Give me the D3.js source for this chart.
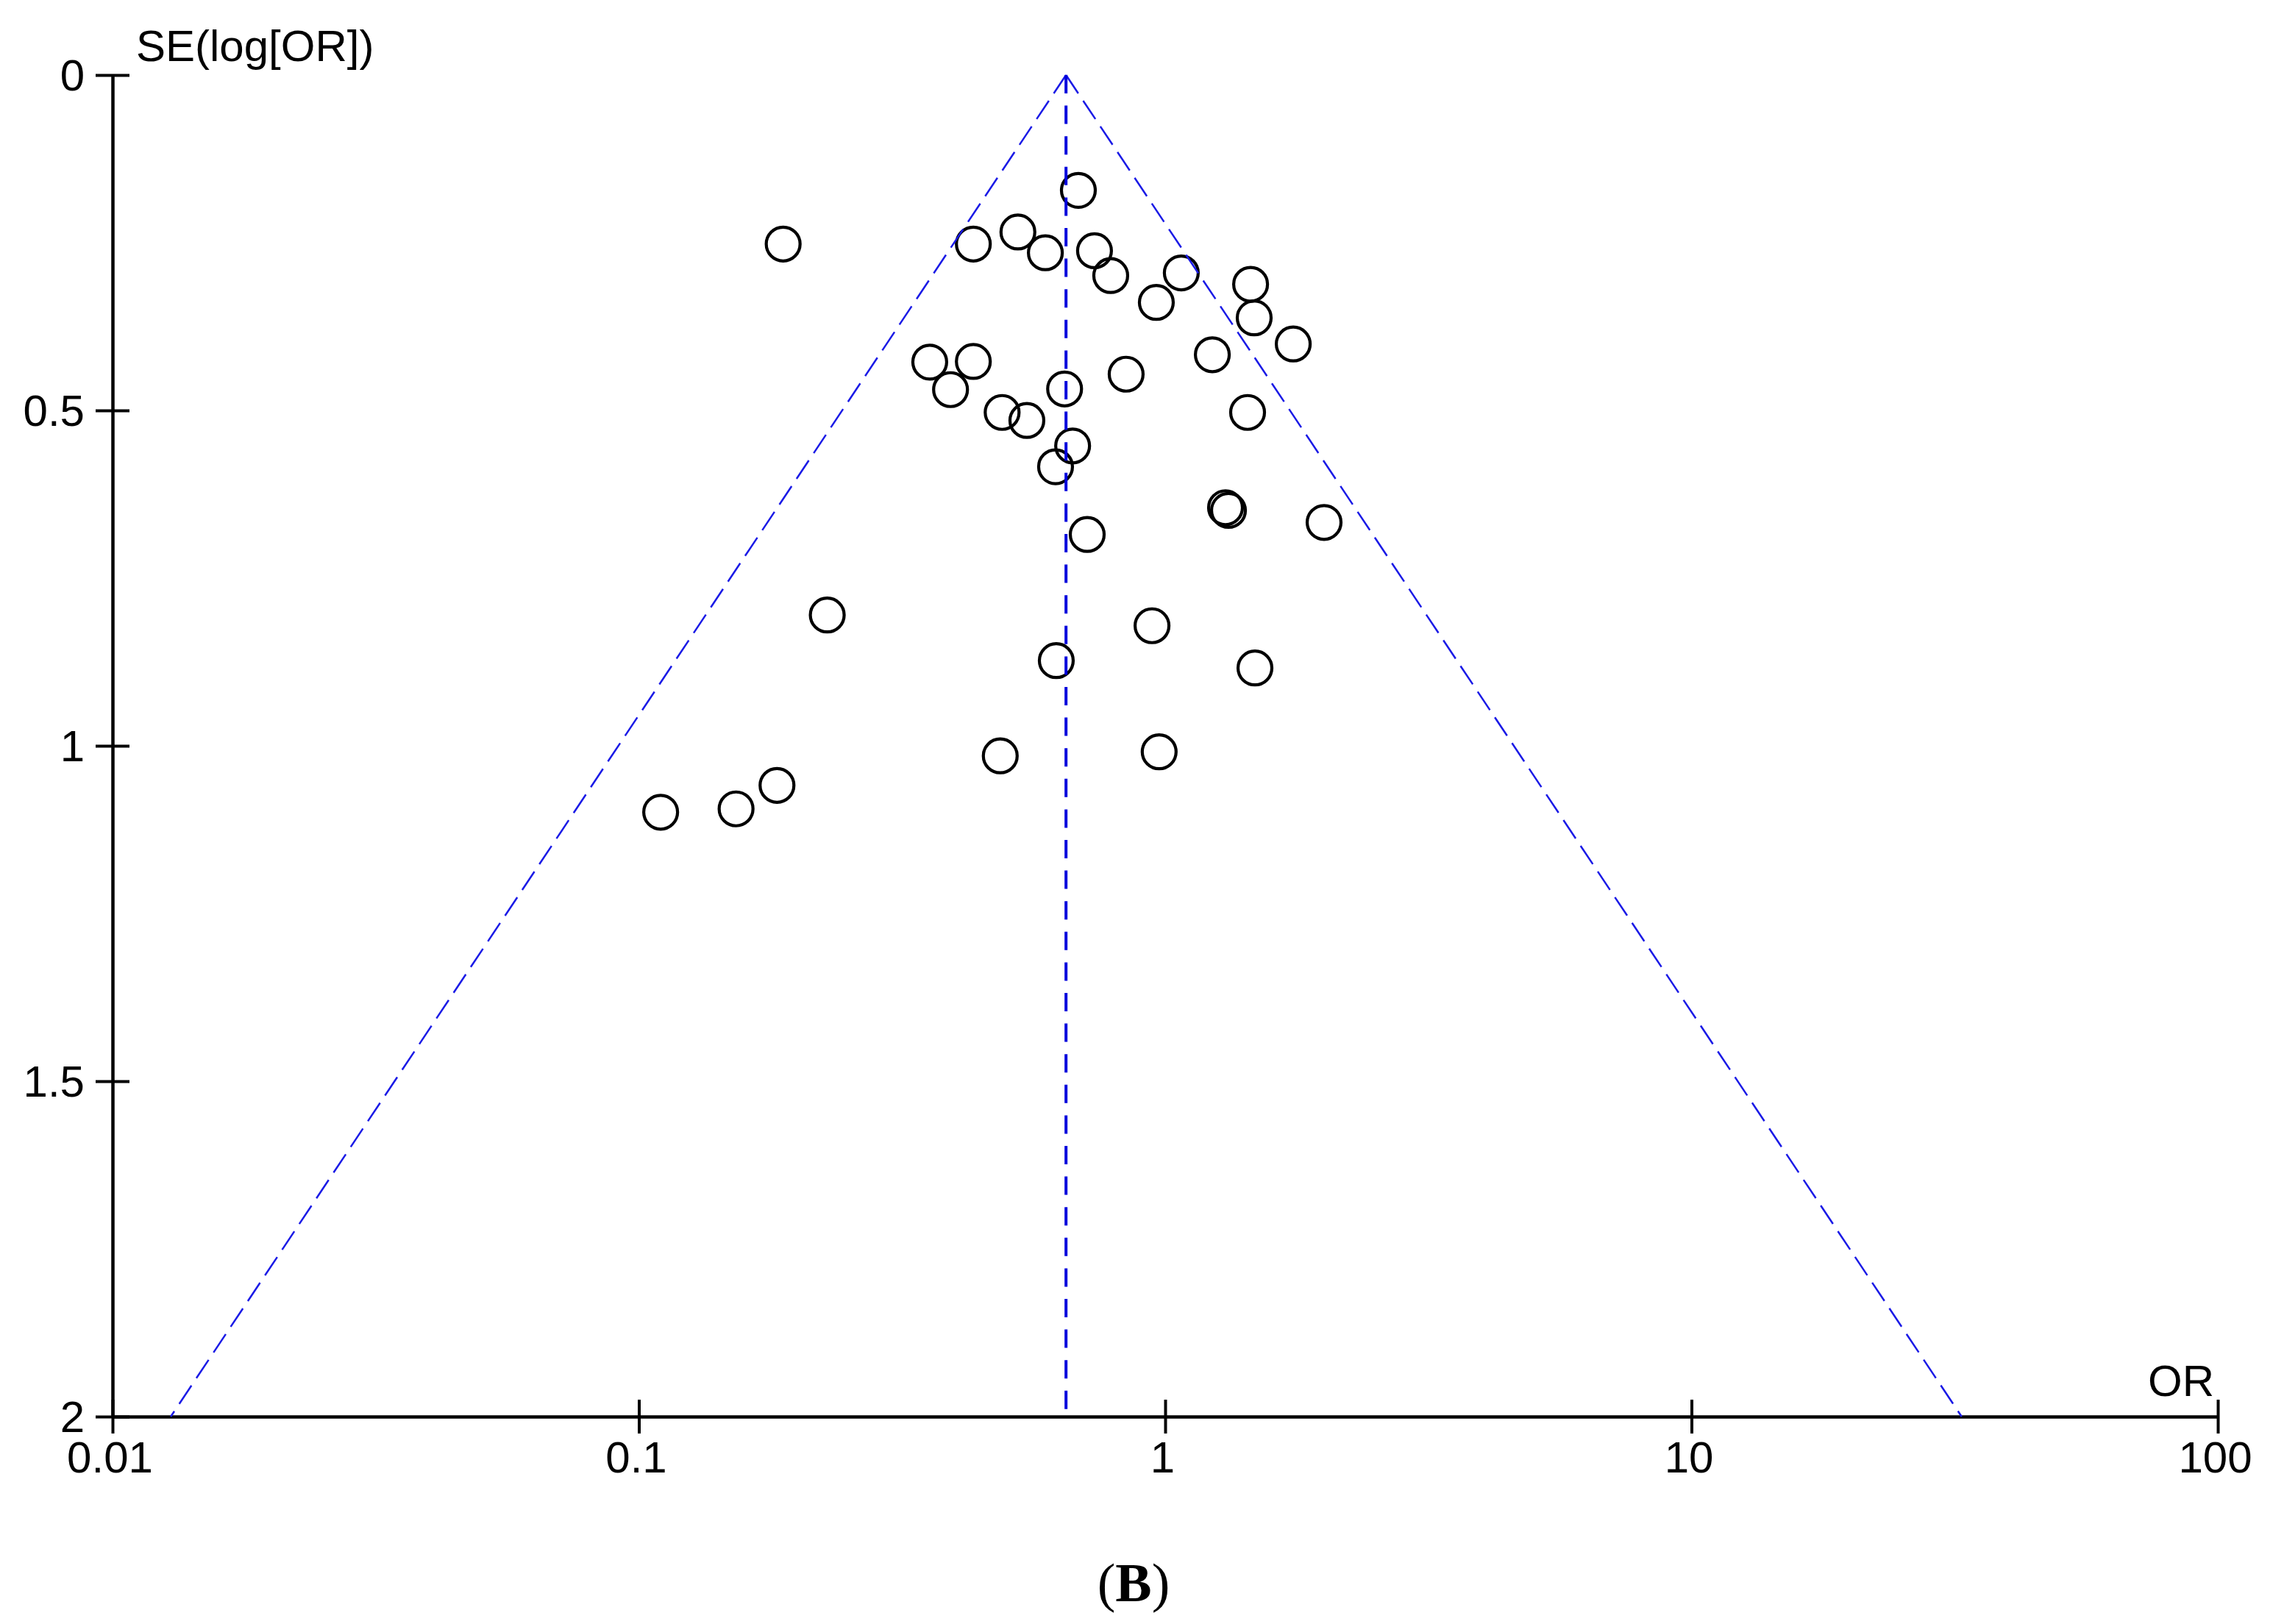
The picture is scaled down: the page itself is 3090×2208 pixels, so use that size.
<!DOCTYPE html>
<html>
<head>
<meta charset="utf-8">
<script src="https://cdn.jsdelivr.net/npm/d3@7"></script>
<style>
  body { margin: 0; background: #fff; }
  text { font-family: "Liberation Sans", Arial, sans-serif; fill: #000; }
</style>
</head>
<body>
<div id="d3-container"></div>
<script>
/* CONSTANTS AND GLOBALS */
const width = 3090,
  height = 2208,
  margin = { top: 102, bottom: 283, left: 153, right: 75 }
let svg;

/* DATA */
// odds ratio of each study
const orValues = [
  0.684, 0.188, 0.432, 0.525, 0.592, 0.734, 0.788, 1.073, 0.962, 1.453,
  1.476, 1.751, 1.229, 0.357, 0.432, 0.391, 0.644, 0.843, 0.490, 0.546,
  0.667, 0.619, 1.434, 1.302, 1.319, 0.711, 2.004, 0.228, 0.944, 0.621,
  1.481, 0.486, 0.974, 0.183, 0.153, 0.110
];
// SE(log[OR]) of each study
const seValues = [
  0.172, 0.252, 0.252, 0.234, 0.265, 0.262, 0.299, 0.295, 0.339, 0.312,
  0.362, 0.401, 0.417, 0.428, 0.427, 0.469, 0.468, 0.446, 0.503, 0.515,
  0.553, 0.584, 0.503, 0.645, 0.649, 0.685, 0.667, 0.805, 0.821, 0.873,
  0.884, 1.015, 1.009, 1.059, 1.094, 1.099
];
const pooledOR = 0.648;
const funnelBase = [0.0129, 32.6];   // funnel limits at SE = 2
const xTicks = [0.01, 0.1, 1, 10, 100];
const xTickLabels = ["0.01", "0.1", "1", "10", "100"];
const yTicks = [0, 0.5, 1, 1.5, 2];
const yTickLabels = ["0", "0.5", "1", "1.5", "2"];

/* INITIALIZING FUNCTION */
function init() {
  const x = d3.scaleLog()
    .domain([0.01, 100])
    .range([margin.left, width - margin.right])

  const y = d3.scaleLinear()
    .domain([0, 2])
    .range([margin.top, height - margin.bottom + 1])

  svg = d3
    .select("#d3-container")
    .append("svg")
    .attr("width", width)
    .attr("height", height);

  // x axis
  const xAxis = svg.append("g")
    .attr("transform", `translate(0,${y(2)})`)
    .call(d3.axisBottom(x)
      .tickValues(xTicks)
      .tickFormat((d, i) => xTickLabels[i])
      .tickSizeOuter(0))
  xAxis.select(".domain").attr("stroke", "#000").attr("stroke-width", 4.5)
  xAxis.selectAll(".tick line")
    .attr("y1", -23).attr("y2", 23)
    .attr("stroke", "#000").attr("stroke-width", 4)
  xAxis.selectAll(".tick text")
    .attr("x", -4)
    .attr("y", 76).attr("dy", null)
    .style("font-size", "60px")

  // y axis
  const yAxis = svg.append("g")
    .attr("transform", `translate(${x(0.01)},0)`)
    .call(d3.axisLeft(y)
      .tickValues(yTicks)
      .tickFormat((d, i) => yTickLabels[i])
      .tickSizeOuter(0))
  yAxis.select(".domain").attr("stroke", "#000").attr("stroke-width", 4.5)
  yAxis.selectAll(".tick line")
    .attr("x1", -23).attr("x2", 23)
    .attr("stroke", "#000").attr("stroke-width", 4)
  yAxis.selectAll(".tick text")
    .attr("x", -38).attr("dy", "0.34em")
    .style("font-size", "60px")

  // axis titles
  svg.append("text")
    .attr("x", 185)
    .attr("y", 83)
    .style("font-size", "60px")
    .text("SE(log[OR])")

  svg.append("text")
    .attr("x", 3010)
    .attr("y", 1898)
    .attr("text-anchor", "end")
    .style("font-size", "60px")
    .text("OR")

  // study circles
  const points = orValues.map((d, i) => ({ or: d, se: seValues[i] }))
  svg.selectAll("circle.study")
    .data(points)
    .join("circle")
    .attr("class", "study")
    .attr("cx", d => x(d.or))
    .attr("cy", d => y(d.se))
    .attr("r", 23)
    .attr("fill", "none")
    .attr("stroke", "#000")
    .attr("stroke-width", 4.2)

  // funnel limits
  const line = d3.line().x(d => x(d[0])).y(d => y(d[1]))
  svg.selectAll("path.funnel")
    .data(funnelBase.map(b => [[pooledOR, 0], [b, 2]]))
    .join("path")
    .attr("class", "funnel")
    .attr("d", line)
    .attr("fill", "none")
    .attr("stroke", "#1a1ae6")
    .attr("stroke-width", 2.5)
    .attr("stroke-dasharray", "30,12")

  // pooled estimate
  svg.append("path")
    .attr("d", line([[pooledOR, 0], [pooledOR, 2]]))
    .attr("fill", "none")
    .attr("stroke", "#0000dc")
    .attr("stroke-width", 4)
    .attr("stroke-dasharray", "25,16.6")

  // panel caption
  const cap = svg.append("text")
    .attr("x", 1541)
    .attr("y", 2177)
    .attr("text-anchor", "middle")
    .style("font-family", "'Liberation Serif', 'Times New Roman', serif")
    .style("font-size", "74px")
  cap.append("tspan").text("(")
  cap.append("tspan").style("font-weight", "bold").text("B")
  cap.append("tspan").text(")")
}

init();
</script>
</body>
</html>
